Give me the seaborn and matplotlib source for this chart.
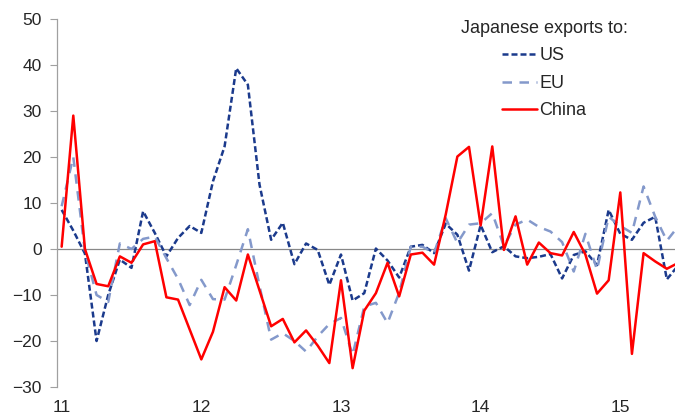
import pandas as pd
import matplotlib
matplotlib.use("Agg")
import matplotlib.pyplot as plt
import seaborn as sns

# monthly % change (y/y), Jan 2011 .. Jun 2015
us = [8.5, 4, -1, -20, -10, -2.3, -4.1, 8.2, 3.5, -1.6, 2.4, 5,
      3.5, 14.7, 22.3, 39.3, 35.7, 14, 2, 5.7, -3.3, 1.2, -0.2, -7.8,
      -1.2, -11.2, -9.6, 0.1, -2.5, -6.2, 0.5, 0.9, -0.9, 5.5, 3.1, -4.7,
      5.2, -0.7, 0.6, -1.6, -2, -1.7, -1.1, -6.4, -1.3, -0.5, -3.5, 8.5,
      3.3, 2, 5.7, 7, -6.6, -3.5]
eu = [9.3, 20, -0.5, -10, -11.5, 1.2, 0, 2.2, 2.7, -2, -6.5, -12.2,
      -6.7, -10.9, -11, -3.5, 4.3, -8, -19.7, -18.3, -20, -22.3, -19, -16.3,
      -15, -23, -12.5, -11.7, -16.1, -9.5, 0.5, 0.5, -0.9, 6.7, 1.3, 5.3,
      5.6, 7.8, 0.6, 5.3, 6.4, 4.8, 3.8, 1.5, -4.9, 3.3, -4.5, 7,
      5, 3.5, 13.6, 7, 1.8, 5]
china = [0.5, 29, 0, -7.6, -8.1, -1.6, -3, 1, 1.7, -10.5, -11, -17.5,
         -24, -18, -8.3, -11.2, -1.2, -9, -16.8, -15.2, -20.3, -17.7, -21, -24.8,
         -6.8, -25.9, -13.4, -9.6, -3, -10.3, -1.2, -0.8, -3.4, 7.5, 20.1, 22.2,
         5.1, 22.3, -0.2, 7.1, -3.4, 1.4, -0.9, -1.4, 3.7, -1.2, -9.7, -6.8,
         12.3, -22.8, -0.9, -2.7, -4.3, -3]
year_labels = ["11", "12", "13", "14", "15"]

df = pd.DataFrame({
    "month": list(range(len(us))) * 3,
    "value": us + eu + china,
    "series": ["US"] * len(us) + ["EU"] * len(eu) + ["China"] * len(china),
})

sns.set_style("white")
plt.rcParams["font.family"] = ["Liberation Sans", "DejaVu Sans"]

fig = plt.figure(figsize=(6.75, 4.15), dpi=100)
ax = fig.add_axes([57 / 675, 28 / 415, 618 / 675, 368 / 415])

palette = {"US": "#1b3a8c", "EU": "#8499cb", "China": "#ff0000"}
dashes = {"US": (2.4, 1.2), "EU": (3.8, 3.0), "China": ""}
sns.lineplot(data=df, x="month", y="value", hue="series", style="series",
             palette=palette, dashes=dashes, linewidth=1.8, legend=False, ax=ax)

handles = ax.get_lines()[:3]
ax.axhline(0, color="#888888", lw=0.9, zorder=1)

ax.set_xlim(-0.4, 52.7)
ax.set_ylim(-30, 50)
ax.set_yticks(range(-30, 51, 10))
ax.set_xticks(range(0, 49, 12))
ax.set_xticklabels(year_labels)
ax.set_xlabel("")
ax.set_ylabel("")

for s in ["top", "right", "bottom"]:
    ax.spines[s].set_visible(False)
ax.spines["left"].set_color("#a0a0a0")
ax.spines["left"].set_linewidth(0.9)

ax.tick_params(axis="y", direction="out", length=5, width=0.8, color="#a0a0a0",
               labelsize=12.5, pad=6, left=True)
ax.tick_params(axis="x", length=0, labelsize=12.5, pad=9.5)

ax.legend(handles, ["US", "EU", "China"], title="Japanese exports to:",
          loc="upper center", bbox_to_anchor=(544 / 675, (415 - 11) / 415),
          bbox_transform=fig.transFigure, frameon=False, fontsize=13,
          title_fontsize=13, handlelength=1.95, handletextpad=0.15,
          labelspacing=0.58, borderpad=0)

fig.savefig("out.png", dpi=100)
